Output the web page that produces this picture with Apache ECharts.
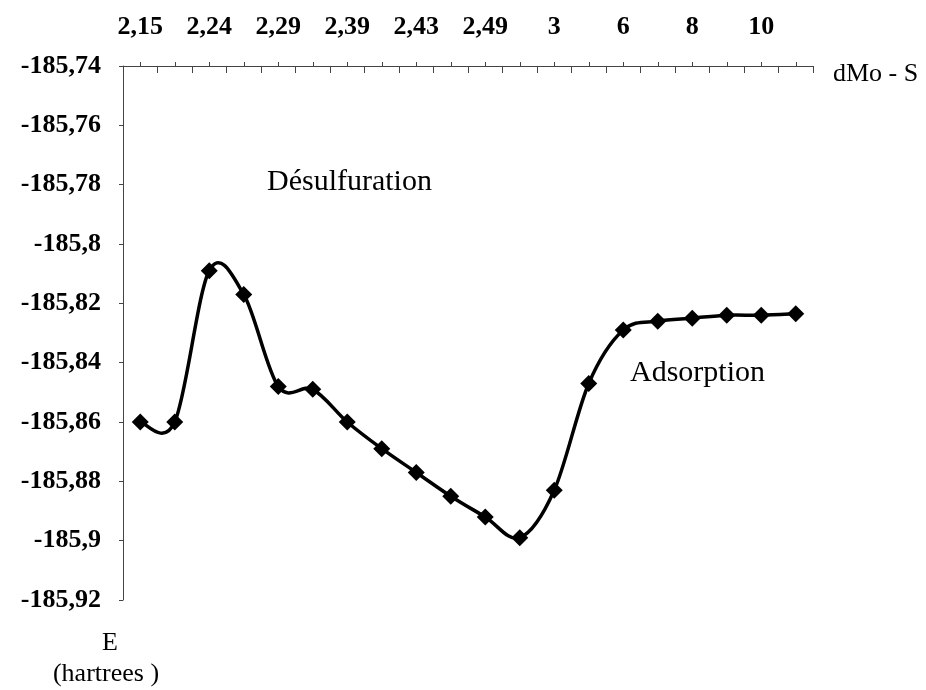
<!DOCTYPE html>
<html>
<head>
<meta charset="utf-8">
<script src="https://cdn.jsdelivr.net/npm/echarts@6/dist/echarts.min.js"></script>
<style>
  html, body { margin: 0; padding: 0; background: #fff; }
  #chart { width: 926px; height: 690px; }
</style>
</head>
<body>
<div id="chart"></div>
<script>
// Mo–S distance steps (only every other step carries a printed value)
const distanceLabels = ['2,15', '', '2,24', '', '2,29', '', '2,39', '', '2,43', '', '2,49', '', '3', '', '6', '', '8', '', '10', ''];

// Total energy along the path, in hartrees
const energy = [
  -185.860, -185.860, -185.809, -185.817, -185.848,
  -185.849, -185.860, -185.869, -185.877, -185.885,
  -185.892, -185.899, -185.883, -185.847, -185.829,
  -185.826, -185.825, -185.824, -185.824, -185.8235
];

// Energy axis ticks
const energyMin = -185.92;
const energyMax = -185.74;
const energyStep = 0.02;

const serif = '"Liberation Serif", "DejaVu Serif", serif';

function commaNumber(v) {
  return String(Number(v.toFixed(2))).replace('.', ',');
}

// Cardinal (Catmull-Rom style) spline segment between point i and i+1,
// computed in pixel space from the axis scales.
function renderSegment(params, api) {
  const i = params.dataIndex;
  const n = energy.length;
  if (i >= n - 1) return null;
  const pt = k => {
    const c = Math.max(0, Math.min(n - 1, k));
    return api.coord([c, energy[c]]);
  };
  const p0 = pt(i - 1), p1 = pt(i), p2 = pt(i + 1), p3 = pt(i + 2);
  const t = 1 / 6;
  return {
    type: 'bezierCurve',
    shape: {
      x1: p1[0], y1: p1[1],
      x2: p2[0], y2: p2[1],
      cpx1: p1[0] + (p2[0] - p0[0]) * t,
      cpy1: p1[1] + (p2[1] - p0[1]) * t,
      cpx2: p2[0] - (p3[0] - p1[0]) * t,
      cpy2: p2[1] - (p3[1] - p1[1]) * t
    },
    style: { stroke: '#000', lineWidth: 3.5, fill: null, lineCap: 'round' }
  };
}

const chart = echarts.init(document.getElementById('chart'), null, { renderer: 'canvas' });

chart.setOption({
  backgroundColor: '#ffffff',
  animation: false,
  grid: { left: 123, top: 66, width: 690, height: 534 },
  xAxis: [
    {
      type: 'category',
      position: 'top',
      data: distanceLabels,
      boundaryGap: true,
      axisLine: { show: true, lineStyle: { color: '#444', width: 1 } },
      axisTick: { show: true, inside: true, length: 7, interval: 0, lineStyle: { color: '#444', width: 1 } },
      axisLabel: {
        show: true, interval: 0, margin: 26,
        color: '#000', fontFamily: serif, fontWeight: 'bold', fontSize: 26
      },
      splitLine: { show: false }
    },
    {
      // small marks at each step centre
      type: 'category',
      position: 'top',
      data: distanceLabels,
      boundaryGap: true,
      axisLine: { show: false },
      axisTick: { show: true, alignWithLabel: true, inside: false, length: 4, interval: 0, lineStyle: { color: '#444', width: 1 } },
      axisLabel: { show: false },
      splitLine: { show: false }
    }
  ],
  yAxis: {
    type: 'value',
    min: energyMin,
    max: energyMax,
    interval: energyStep,
    axisLine: { show: true, lineStyle: { color: '#444', width: 1 } },
    axisTick: { show: true, inside: false, length: 4, lineStyle: { color: '#444', width: 1 } },
    axisLabel: {
      margin: 22,
      color: '#000', fontFamily: serif, fontWeight: 'bold', fontSize: 26,
      formatter: commaNumber
    },
    splitLine: { show: false }
  },
  series: [
    {
      type: 'custom',
      xAxisIndex: 0,
      data: energy.map((v, i) => [i, v]),
      renderItem: renderSegment,
      silent: true,
      z: 4
    },
    {
      type: 'scatter',
      xAxisIndex: 0,
      data: energy,
      symbol: 'diamond',
      symbolSize: 17,
      itemStyle: { color: '#000', opacity: 1 },
      z: 5
    }
  ],
  graphic: [
    {
      type: 'text',
      x: 267, y: 182,
      style: { text: 'Désulfuration', fill: '#000', font: '30px ' + serif, verticalAlign: 'middle', align: 'left' }
    },
    {
      type: 'text',
      x: 630, y: 373,
      style: { text: 'Adsorption', fill: '#000', font: '30px ' + serif, verticalAlign: 'middle', align: 'left' }
    },
    {
      type: 'text',
      x: 833, y: 74,
      style: { text: 'dMo - S', fill: '#000', font: '26px ' + serif, verticalAlign: 'middle', align: 'left' }
    },
    {
      type: 'text',
      x: 110, y: 643,
      style: { text: 'E', fill: '#000', font: '26px ' + serif, verticalAlign: 'middle', align: 'center' }
    },
    {
      type: 'text',
      x: 106, y: 674,
      style: { text: '(hartrees )', fill: '#000', font: '26px ' + serif, verticalAlign: 'middle', align: 'center' }
    }
  ]
});
</script>
</body>
</html>
